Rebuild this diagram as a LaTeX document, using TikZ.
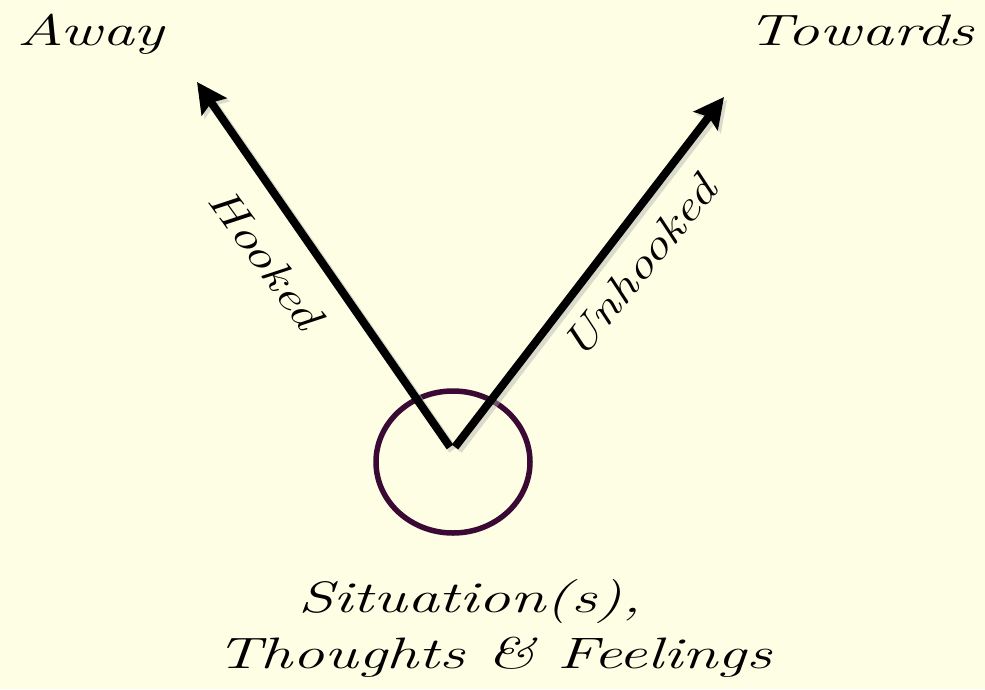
\documentclass[tikz,border=0pt]{standalone}
\usetikzlibrary{arrows.meta,shapes.geometric}
\definecolor{bg}{RGB}{253,254,227}
\definecolor{ring}{RGB}{58,10,52}
\tikzset{
  hand/.style={font=\fontsize{44}{50}\selectfont\itshape, text=black, inner sep=0pt, xscale=1.45},
  lbl/.style={font=\fontsize{42}{48}\selectfont\itshape, text=black, inner sep=0pt, xscale=1.28},
  bigarrow/.style={line width=8pt, black, -{Stealth[length=30pt,width=30pt,inset=5pt]}},
  shadowline/.style={line width=9pt, black!30, opacity=0.45, -{Stealth[length=30pt,width=30pt,inset=5pt]}},
}
\begin{document}
\begin{tikzpicture}[x=1pt,y=-1pt]
\fill[bg] (0,0) rectangle (985,689);
\useasboundingbox (0,0) rectangle (985,689);
% situation ring
\node[ellipse, draw=ring, line width=5.5pt, minimum width=154pt, minimum height=142pt, inner sep=0pt] (sit) at (453,462) {};
% arrow bases and tips
\coordinate (lbase) at (450,447);
\coordinate (rbase) at (455,447);
\coordinate (ltip) at (197,82);
\coordinate (rtip) at (724,97);
% shadows
\draw[shadowline] ([shift={(3,3)}]lbase) -- ([shift={(3,3)}]ltip);
\draw[shadowline] ([shift={(3,3)}]rbase) -- ([shift={(3,3)}]rtip);
% arrows
\draw[bigarrow] (lbase) -- (ltip);
\draw[bigarrow] (rbase) -- (rtip);
% labels
\node[hand, anchor=base west] (away) at (17,45) {Away};
\node[hand, anchor=base east] (towards) at (974,45) {Towards};
\node[rotate=-54, lbl] (hooked) at (266,258) {Hooked};
\node[rotate=51, lbl] (unhooked) at (639,267) {Unhooked};
\node[hand, anchor=base] (sit1) at (470,612) {Situation(s),};
\node[hand, anchor=base] (sit2) at (494,668) {Thoughts \& Feelings};
\end{tikzpicture}
\end{document}
